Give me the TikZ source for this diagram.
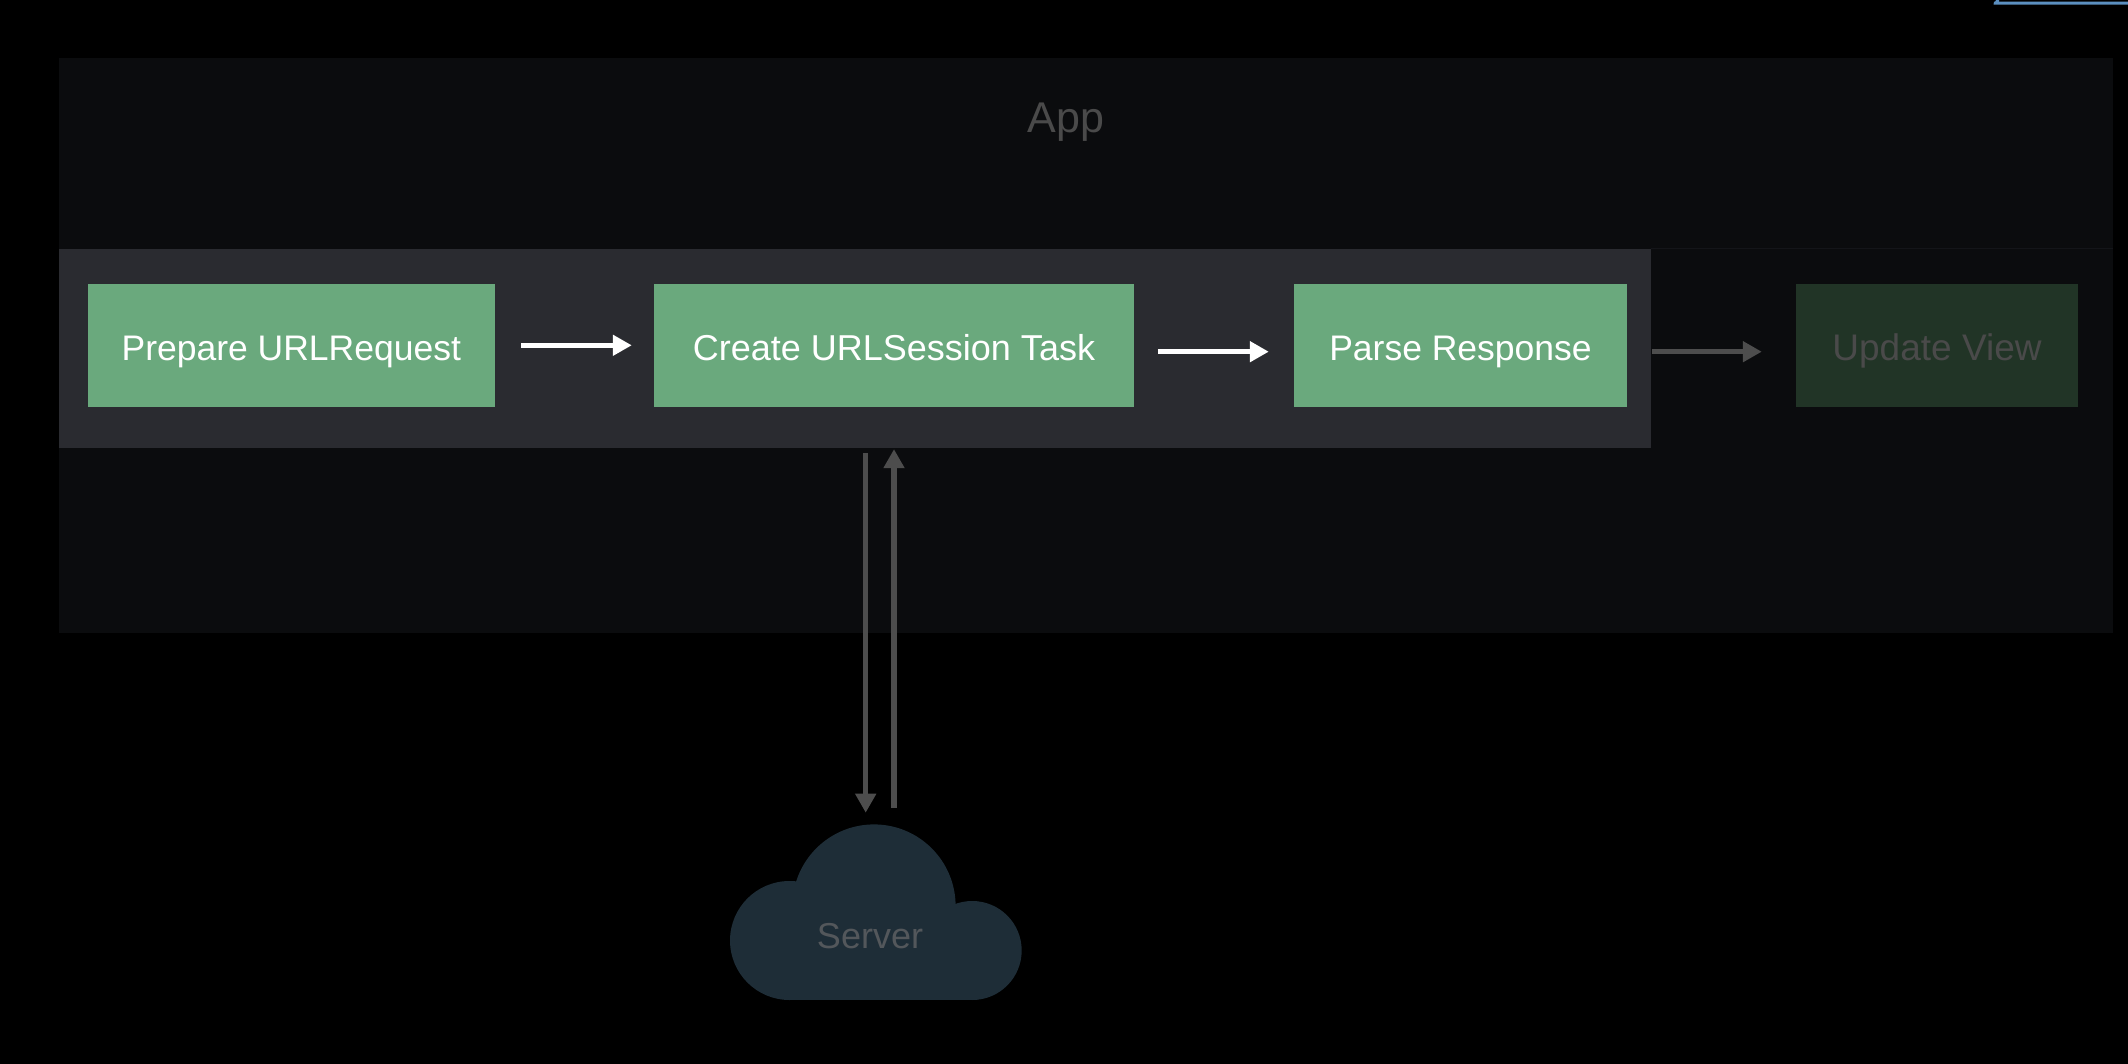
\documentclass[tikz,border=0pt]{standalone}
\usepackage{fontspec}
\setmainfont{Liberation Sans}
\usetikzlibrary{arrows.meta}
\definecolor{appbg}{HTML}{0B0C0E}
\definecolor{appedge}{HTML}{141519}
\definecolor{selbg}{HTML}{2A2B30}
\definecolor{boxgreen}{HTML}{6AA97D}
\definecolor{dimgreen}{HTML}{213426}
\definecolor{cloudc}{HTML}{1E2D37}
\definecolor{dimtext}{HTML}{4A4A4A}
\definecolor{servertext}{HTML}{53575B}
\definecolor{dimarrow}{HTML}{4D4D4D}
\definecolor{bluebar}{HTML}{5B8FC0}
\tikzset{
  stepbox/.style={fill=boxgreen,text=white,inner sep=0pt,minimum height=122.7pt,
    text height=30.6pt,text depth=0pt,font=\fontsize{35.5}{40}\selectfont},
  dimbox/.style={stepbox,fill=dimgreen,text=dimtext},
  flow/.style={line width=5.5pt,white,-{Triangle[length=19pt,width=20pt]}},
  dimflow/.style={flow,dimarrow},
}
\begin{document}
\begin{tikzpicture}[x=1pt,y=-1pt]
\useasboundingbox (0,0) rectangle (2128,1064);
\fill[black] (0,0) rectangle (2128,1064);
% top-right fragment
\fill[bluebar] (1994,1.7) -- (2128,1.7) -- (2128,4.7) -- (1993.5,4.7) -- cycle;
\fill[bluebar] (1996,0) -- (1999,0) -- (1999,2) -- (1995,2) -- cycle;
% panels
\fill[appbg] (58.5,58) rectangle (2113,632.5);
\fill[appedge] (1651,248.5) rectangle (2113,249.5);
\fill[selbg] (58.5,249) rectangle (1651,447.7);
\node[text=dimtext,anchor=base,font=\fontsize{43}{47}\selectfont] (app) at (1066,133) {App};
% boxes
\node[stepbox,minimum width=406.6pt] (prep) at (291.3,345.3) {Prepare URLRequest};
\node[stepbox,minimum width=480pt,font=\fontsize{36}{40}\selectfont] (create) at (894,345.3) {Create URLSession Task};
\node[stepbox,minimum width=333pt] (parse) at (1460.5,345.3) {Parse Response};
\node[dimbox,minimum width=282pt,font=\fontsize{37}{40}\selectfont] (update) at (1937,345.3) {Update View};
% arrows
\draw[flow,shorten <=26.4pt,shorten >=22pt] (prep.east) -- (create.west);
\draw[flow,shorten <=23.7pt,shorten >=25pt] ([yshift=-6.4pt]create.east) -- ([yshift=-6.4pt]parse.west);
\draw[dimflow,shorten <=25pt,shorten >=34pt] ([yshift=-6.4pt]parse.east) -- ([yshift=-6.4pt]update.west);
% cloud
\fill[cloudc] (874,906) circle (81.6);
\fill[cloudc] (789.5,940.5) circle (59.5);
\fill[cloudc] (972.2,950.5) circle (49.5);
\fill[cloudc] (789.5,930) rectangle (972.2,1000);
\node[text=servertext,anchor=base,font=\fontsize{36}{40}\selectfont] (server) at (870,948.5) {Server};
% vertical arrows
\coordinate (taskDown) at (865.7,453);
\coordinate (srvDown) at (865.7,812.7);
\coordinate (srvUp) at (894,808);
\draw[dimflow] (taskDown) -- (srvDown);
\draw[dimflow,shorten >=42.3pt] (srvUp) -- (create.south);
\end{tikzpicture}
\end{document}
